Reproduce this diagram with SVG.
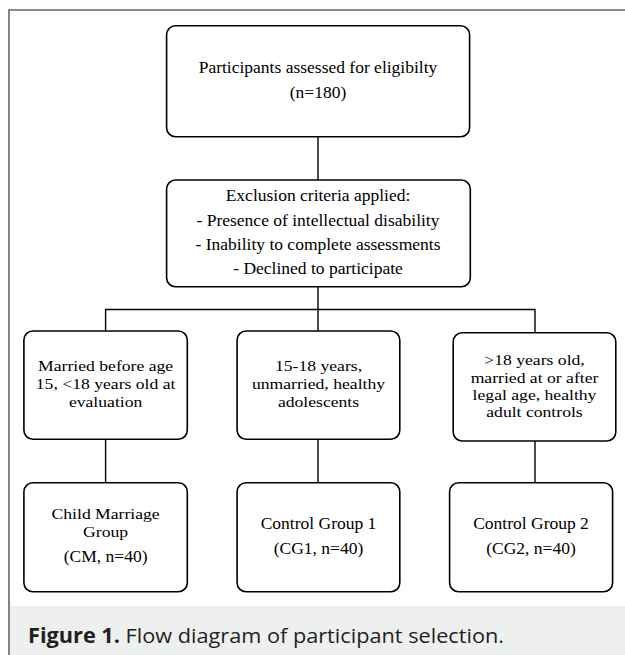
<svg xmlns="http://www.w3.org/2000/svg" width="625" height="655" viewBox="0 0 625 655">
<style>
.box{fill:#fff;stroke:#000;stroke-width:1.6}
.t{font-family:"Liberation Serif","Times New Roman",serif;font-size:17.5px;fill:#000;text-anchor:middle}
.s{font-family:"Liberation Serif","Times New Roman",serif;font-size:15.2px;fill:#000;text-anchor:middle}
.conn{stroke:#000;stroke-width:1.4;fill:none}
.cap{font-family:"Open Sans","Liberation Sans",sans-serif;font-size:20.5px;fill:#231f20}
</style>
<rect x="0" y="0" width="625" height="655" fill="#fff"/>
<rect x="9" y="606" width="616" height="49" fill="#eeefef"/>
<path d="M9,655 V10 H625" fill="none" stroke="#666" stroke-width="1.6"/>
<g id="connectors">
<line class="conn" x1="318" y1="136.5" x2="318" y2="180"/>
<line class="conn" x1="318" y1="286.5" x2="318" y2="331"/>
<polyline class="conn" points="105.6,331 105.6,309.5 535,309.5 535,332.5"/>
<line class="conn" x1="105.6" y1="439.5" x2="105.6" y2="482.5"/>
<line class="conn" x1="318" y1="439.5" x2="318" y2="482.5"/>
<line class="conn" x1="535" y1="441" x2="535" y2="482.5"/>
</g>
<g id="n_assessed">
<rect class="box" x="166.6" y="25.7" width="303" height="111" rx="9"/>
<text class="t" x="318" y="73">Participants assessed for eligibilty</text>
<text class="t" x="318" y="98">(n=180)</text>
</g>
<g id="n_exclusion">
<rect class="box" x="166.6" y="180" width="303.7" height="106.7" rx="9"/>
<text class="t" x="318" y="201">Exclusion criteria applied:</text>
<text class="t" x="318" y="226">- Presence of intellectual disability</text>
<text class="t" x="318" y="250">- Inability to complete assessments</text>
<text class="t" x="318" y="274">- Declined to participate</text>
</g>
<g id="n_crit_cm">
<rect class="box" x="23.9" y="331" width="163.4" height="108.3" rx="9"/>
<g transform="translate(105.6 0) scale(1.16 1)">
<text class="s" x="0" y="370.7">Married before age</text>
<text class="s" x="0" y="389">15, &lt;18 years old at</text>
<text class="s" x="0" y="406.7">evaluation</text>
</g>
</g>
<g id="n_crit_cg1">
<rect class="box" x="237.1" y="331" width="162.7" height="108.3" rx="9"/>
<g transform="translate(318.5 0) scale(1.16 1)">
<text class="s" x="0" y="371.5">15-18 years,</text>
<text class="s" x="0" y="389.3">unmarried, healthy</text>
<text class="s" x="0" y="406.7">adolescents</text>
</g>
</g>
<g id="n_crit_cg2">
<rect class="box" x="453.2" y="332.7" width="162.6" height="108.3" rx="9"/>
<g transform="translate(534.5 0) scale(1.16 1)">
<text class="s" x="0" y="365">&gt;18 years old,</text>
<text class="s" x="0" y="382.7">married at or after</text>
<text class="s" x="0" y="400">legal age, healthy</text>
<text class="s" x="0" y="417.3">adult controls</text>
</g>
</g>
<g id="n_cm">
<rect class="box" x="23.9" y="482.7" width="163.4" height="109" rx="9"/>
<g transform="translate(105.6 0) scale(1.16 1)">
<text class="s" x="0" y="519.3">Child Marriage</text>
<text class="s" x="0" y="537.3">Group</text>
</g>
<text class="t" x="105.6" y="562.3">(CM, n=40)</text>
</g>
<g id="n_cg1">
<rect class="box" x="237.1" y="482.7" width="162.7" height="109" rx="9"/>
<text class="t" x="318.5" y="529">Control Group 1</text>
<text class="t" x="318.5" y="554">(CG1, n=40)</text>
</g>
<g id="n_cg2">
<rect class="box" x="449.6" y="482.7" width="163" height="109" rx="9"/>
<text class="t" x="531" y="529">Control Group 2</text>
<text class="t" x="531" y="554">(CG2, n=40)</text>
</g>
<text class="cap" x="28" y="643" textLength="476" lengthAdjust="spacingAndGlyphs"><tspan font-weight="bold">Figure 1.</tspan> Flow diagram of participant selection.</text>
</svg>
